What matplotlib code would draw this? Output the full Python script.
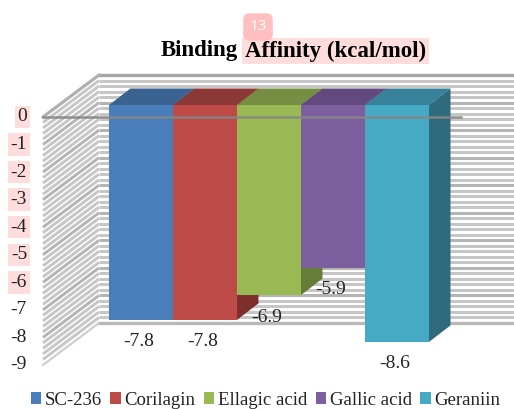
import matplotlib.pyplot as plt
from matplotlib.patches import Polygon
import numpy as np

plt.rcParams['font.family'] = ['Liberation Serif', 'DejaVu Serif']

names = ['SC-236', 'Corilagin', 'Ellagic acid', 'Gallic acid', 'Geraniin']
values = [-7.8, -7.8, -6.9, -5.9, -8.6]
front_colors = ['#4a7ebb', '#be4b48', '#98b954', '#7d5fa0', '#46aac5']
top_colors = ['#3b6391', '#8c3836', '#768e41', '#624a7e', '#37829a']
side_colors = ['#335880', '#7d2f2e', '#657d39', '#55406e', '#2f6b7c']
axis_ticks = [0, -1, -2, -3, -4, -5, -6, -7, -8, -9]
marked_ticks = [0, -1, -2, -3, -4, -5, -6]

# 1 unit in x = one bar = 64 px, 1 unit in y = 27.55 px
fig = plt.figure(figsize=(5.14, 4.09), dpi=100)
ax = fig.add_axes([0, 0, 1, 1])
ax.set_xlim(-141 / 64, 373 / 64)
ax.set_ylim((105 - 409) / 27.55, 105 / 27.55)
ax.axis('off')

# offsets of the 3d look
bar_dx, bar_dy = 21.5 / 64, 16.5 / 27.55
wall_left, wall_back, wall_right = -98 / 64, -42 / 64, 373 / 64
front_zero, back_zero = -12 / 27.55, 30 / 27.55

# walls, lines every 0.2
steps = np.arange(0, 45) * -0.2
for s in steps:
    major = abs(s - round(s)) < 0.01
    col = '#b4b4b4' if major else '#c6c6c6'
    ax.plot([wall_back, wall_right], [s + back_zero, s + back_zero], color=col, lw=2.2, zorder=1, solid_capstyle='butt')
    ax.plot([wall_left, wall_back], [s + front_zero, s + back_zero], color=col, lw=2.1, zorder=1, solid_capstyle='butt')
ax.plot([wall_back, wall_right], [back_zero, back_zero], color='#a8a8a8', lw=2.4, zorder=1.1)
ax.plot([wall_left, wall_back], [front_zero, back_zero], color='#b0b0b0', lw=2.0, zorder=1.1)
ax.plot([wall_back, wall_right], [back_zero - 9, back_zero - 9], color='#b8b8b8', lw=2.4, zorder=1.1)
ax.plot([wall_left, wall_back], [front_zero - 9, back_zero - 9], color='#cccccc', lw=1.5, zorder=1.1)

# bars, each one painted over the side of the one before it
bars = ax.bar(range(len(values)), values, width=1.0, color=front_colors, zorder=5)
for i, v in enumerate(values):
    l, r = i - 0.5, i + 0.5
    ax.add_patch(Polygon([(r, 0), (r + bar_dx, bar_dy), (r + bar_dx, v + bar_dy), (r, v)],
                         facecolor=side_colors[i], edgecolor='none', zorder=3))
    ax.add_patch(Polygon([(l, 0), (r, 0), (r + bar_dx, bar_dy), (l + bar_dx, bar_dy)],
                         facecolor=top_colors[i], edgecolor='none', zorder=3.5))
    ax.text(i - 0.03, v - 0.8, f'{v}', ha='center', va='center', fontsize=14, color='#222222', zorder=8)

# axis line at 0 runs over the bars
ax.plot([wall_left, 5.0], [front_zero, front_zero], color='#868686', lw=1.8, alpha=0.9, zorder=7)

# tick labels
for t in axis_ticks:
    box = dict(facecolor='#ffdddd', edgecolor='none', pad=2) if t in marked_ticks else None
    ax.text(-114 / 64, t + front_zero, str(t), ha='right', va='center', fontsize=14,
            color='#222222', bbox=box, zorder=8)

# title
ax.text(97 / 64, (105 - 51) / 27.55, 'Binding', ha='right', va='center', fontsize=16.5,
        fontweight='bold', color='black')
ax.text(104 / 64, (105 - 51) / 27.55, 'Affinity (kcal/mol)', ha='left', va='center', fontsize=16.5,
        fontweight='bold', color='black', bbox=dict(facecolor='#ffdddd', edgecolor='none', pad=2))
ax.text(117 / 64, (105 - 27) / 27.55, '13', ha='center', va='center', fontsize=11, color='white',
        family='Open Sans', bbox=dict(boxstyle='round,pad=0.4', facecolor='#ffbfbf', edgecolor='none'))

leg = ax.legend(bars, names, ncol=5, loc='lower left', bbox_to_anchor=(0.060, 0.0), frameon=False,
                fontsize=13.5, handlelength=0.55, handleheight=0.6, handletextpad=0.2,
                columnspacing=0.45, labelcolor='#222222', borderpad=0, borderaxespad=0)
leg.set_zorder(9)

fig.savefig('out.png', dpi=100)
